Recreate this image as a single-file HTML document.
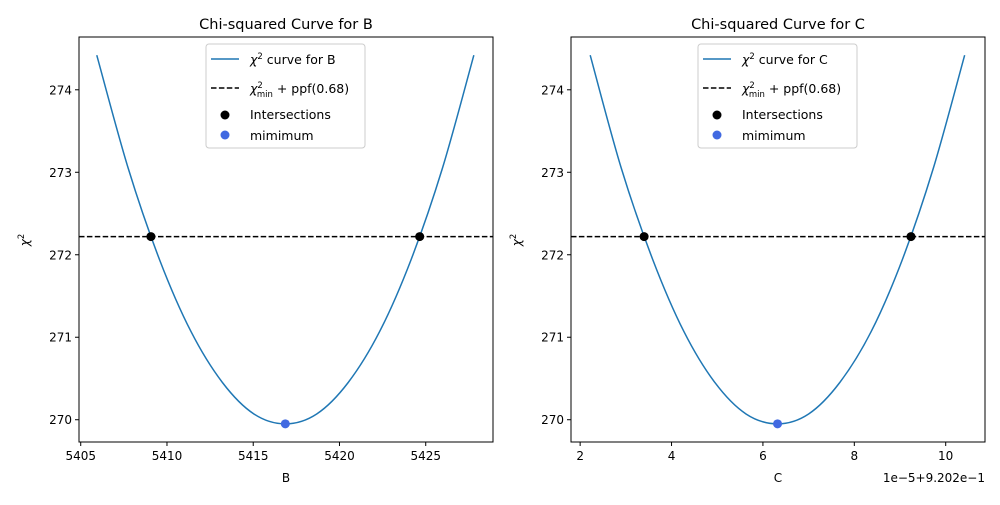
<!DOCTYPE html>
<html><head><meta charset="utf-8"><style>
body{margin:0;background:#fff}
svg{font-family:"DejaVu Sans","Liberation Sans",sans-serif}
</style></head><body>
<svg id="s" width="1000" height="500"></svg>
<script>
const bX=[5405.93,5407.75,5409.57,5411.39,5413.22,5415.04,5416.86,5418.68,5420.50,5422.33,5424.15,5425.97,5427.79];
const bY=[274.42,273.05,271.94,271.07,270.45,270.07,269.95,270.07,270.45,271.07,271.94,273.05,274.42];
const bInter=[5409.07,5424.65];
const bMin=[5416.86,269.95];
const bTicks=[5405,5410,5415,5420,5425];
const cX=[2.22,2.90,3.59,4.27,4.95,5.63,6.32,7.00,7.68,8.37,9.05,9.73,10.415];
const cY=[274.42,273.05,271.94,271.07,270.45,270.07,269.95,270.07,270.45,271.07,271.94,273.05,274.42];
const cInter=[3.40,9.24];
const cMin=[6.32,269.95];
const cTicks=[2,4,6,8,10];
const thresh=272.22;
const yTicks=[270,271,272,273,274];
const NS="http://www.w3.org/2000/svg";
const svg=document.getElementById('s');
function mk(t,a,p){const e=document.createElementNS(NS,t);for(const k in a)e.setAttribute(k,a[k]);(p||svg).appendChild(e);return e;}
function panel(name,x0,x1,xmin,xmax,xs,ys,inter,mn,ticks,title,xlabel,offset){
 const g=mk('g',{});
 
 
 const y0=37,y1=442,ymin=269.73,ymax=274.64;
 const sx=v=>x0+(v-xmin)/(xmax-xmin)*(x1-x0);
 const sy=v=>y1-(v-ymin)/(ymax-ymin)*(y1-y0);
 const P=xs.map((v,i)=>[sx(v),sy(ys[i])]);
 let d='M'+P[0][0]+','+P[0][1];
 for(let i=0;i<P.length-1;i++){const p0=P[Math.max(0,i-1)],p1=P[i],p2=P[i+1],p3=P[Math.min(P.length-1,i+2)];
  d+=' C'+(p1[0]+(p2[0]-p0[0])/6)+','+(p1[1]+(p2[1]-p0[1])/6)+' '+(p2[0]-(p3[0]-p1[0])/6)+','+(p2[1]-(p3[1]-p1[1])/6)+' '+p2[0]+','+p2[1];}
 const c=mk('path',{d:d,fill:'none',stroke:'#1f77b4','stroke-width':1.5},g);
 
 
 const h=mk('line',{x1:x0,x2:x1,y1:sy(thresh),y2:sy(thresh),stroke:'#000','stroke-width':1.5,'stroke-dasharray':'5.5,2.4'},g);
 
 
 inter.forEach(v=>{const e=mk('circle',{cx:sx(v),cy:sy(thresh),r:4.5,fill:'#000'},g);
  
  });
 const m=mk('circle',{cx:sx(mn[0]),cy:sy(mn[1]),r:4.5,fill:'#4169e1'},g);
 
 
 const f=mk('rect',{x:x0,y:y0,width:x1-x0,height:y1-y0,fill:'none',stroke:'#000','stroke-width':1},g);
 
 
 ticks.forEach(v=>{const X=sx(v);mk('line',{x1:X,x2:X,y1:y1,y2:y1+4,stroke:'#000'},g);
  const t=mk('text',{x:X,y:y1+18,'text-anchor':'middle','font-size':12},g);t.textContent=String(v);
  
  });
 yTicks.forEach(v=>{const Y=sy(v);mk('line',{x1:x0-4,x2:x0,y1:Y,y2:Y,stroke:'#000'},g);
  const t=mk('text',{x:x0-7,y:Y+4.5,'text-anchor':'end','font-size':12},g);t.textContent=String(v);
  
  });
 const ti=mk('text',{x:(x0+x1)/2,y:29,'text-anchor':'middle','font-size':14.5},g);ti.textContent=title;
 
 
 const xl=mk('text',{x:(x0+x1)/2,y:482,'text-anchor':'middle','font-size':12},g);xl.textContent=xlabel;
 
 
 const yl=mk('text',{x:0,y:0,'text-anchor':'middle','font-size':12,'font-style':'italic',transform:'translate('+(x0-50)+',240) rotate(-90)'},g);
 yl.innerHTML='χ<tspan dy="-5" font-size="8.5" font-style="normal">2</tspan>';
 
 
 if(offset){const o=mk('text',{x:x1,y:482,'text-anchor':'end','font-size':12},g);o.textContent=offset;
  
  }
 const lx=(x0+x1)/2-80, ly=44;
 const lg=mk('g',{},g);
 
 
 mk('rect',{x:lx,y:ly,width:159,height:104,rx:3,fill:'#fff',stroke:'#ccc'},lg);
 mk('line',{x1:lx+5,x2:lx+33,y1:ly+15,y2:ly+15,stroke:'#1f77b4','stroke-width':1.5},lg);
 let t=mk('text',{x:lx+44,y:ly+20,'font-size':12.5},lg);t.innerHTML='<tspan font-style="italic">χ</tspan><tspan dy="-5" font-size="8.5">2</tspan><tspan dy="5"> curve for '+xlabel+'</tspan>';
 mk('line',{x1:lx+5,x2:lx+33,y1:ly+44,y2:ly+44,stroke:'#000','stroke-width':1.5,'stroke-dasharray':'5.5,2.4'},lg);
 t=mk('text',{x:lx+44,y:ly+49,'font-size':12.5},lg);t.innerHTML='<tspan font-style="italic">χ</tspan><tspan dy="-5" font-size="8.5">2</tspan><tspan dx="-6" dy="9" font-size="8.5">min</tspan><tspan dy="-4"> + ppf(0.68)</tspan>';
 mk('circle',{cx:lx+19,cy:ly+71,r:4.5,fill:'#000'},lg);
 t=mk('text',{x:lx+44,y:ly+75,'font-size':12.5},lg);t.textContent='Intersections';
 mk('circle',{cx:lx+19,cy:ly+91,r:4.5,fill:'#4169e1'},lg);
 t=mk('text',{x:lx+44,y:ly+96,'font-size':12.5},lg);t.textContent='mimimum';
}
panel('b-plot',79,493,5404.9,5428.9,bX,bY,bInter,bMin,bTicks,'Chi-squared Curve for B','B','');
panel('c-plot',571,985,1.80,10.86,cX,cY,cInter,cMin,cTicks,'Chi-squared Curve for C','C','1e−5+9.202e−1');
</script>
</body></html>
